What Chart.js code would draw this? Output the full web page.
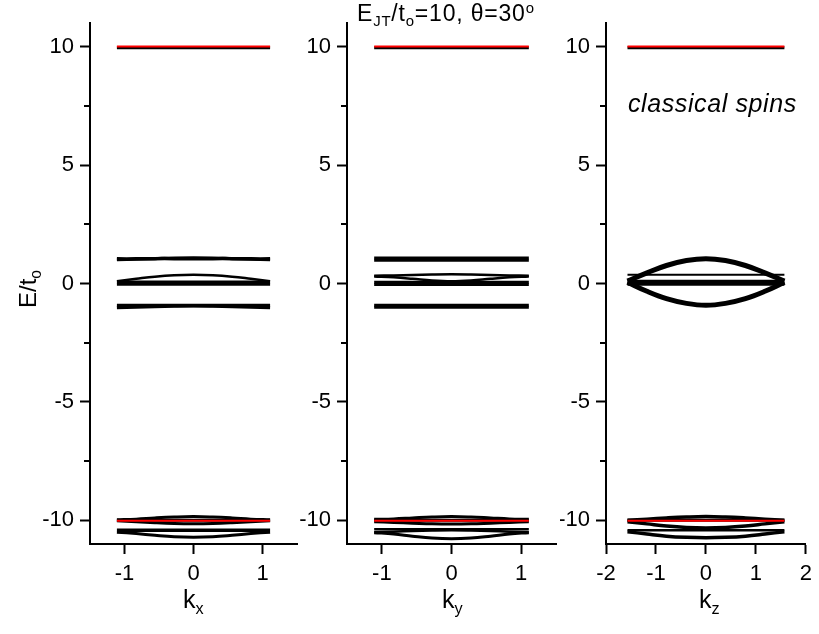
<!DOCTYPE html>
<html>
<head>
<meta charset="utf-8">
<script src="https://cdn.jsdelivr.net/npm/chart.js@4"></script>
<style>
  body { margin: 0; background: #fff; }
  #wrap { position: relative; width: 819px; height: 634px; background: #fff; font-family: "Liberation Sans", Arial, sans-serif; }
  .panel { position: absolute; top: 0; height: 634px; }
  .txt { position: absolute; color: #000; white-space: nowrap; line-height: 1; }
  sub { font-size: 0.65em; vertical-align: -0.35em; }
  sup { font-size: 0.65em; vertical-align: 0.55em; }
</style>
</head>
<body>
<div id="wrap">
  <div class="panel" style="left:0;width:300px"><canvas id="px"></canvas></div>
  <div class="panel" style="left:300px;width:260px"><canvas id="py"></canvas></div>
  <div class="panel" style="left:560px;width:259px"><canvas id="pz"></canvas></div>

  <div class="txt" style="left:357px;top:1px;font-size:23px;letter-spacing:0.8px">E<sub>JT</sub>/t<sub>o</sub>=10, &theta;=30<sup>o</sup></div>
  <div class="txt" style="left:628px;top:91px;font-size:25px;font-style:italic;letter-spacing:0.6px">classical spins</div>
  <div class="txt" style="left:2px;top:270px;font-size:24px;transform:rotate(-90deg);transform-origin:26px 12px">E/t<sub>o</sub></div>
  <div class="txt" style="left:183px;top:587px;font-size:25px">k<sub>x</sub></div>
  <div class="txt" style="left:442px;top:587px;font-size:25px">k<sub>y</sub></div>
  <div class="txt" style="left:699px;top:587px;font-size:25px">k<sub>z</sub></div>
</div>
<script>
// momentum grids
const kxy = [-1.11, -0.83, -0.56, -0.28, 0, 0.28, 0.56, 0.83, 1.11];
const kzz = [-1.57, -1.18, -0.79, -0.39, 0, 0.39, 0.79, 1.18, 1.57];

// tick values
const yTicks = [-10, -5, 0, 5, 10];
const yMinor = [-7.5, -2.5, 2.5, 7.5];
const xTicksXY = [-1, 0, 1];
const xTicksZ = [-2, -1, 0, 1, 2];

// bands along k_x
const kxTop  = [9.96, 9.96, 9.96, 9.96, 9.96, 9.96, 9.96, 9.96, 9.96];
const kxA1   = [1.04, 1.04, 1.05, 1.05, 1.05, 1.05, 1.05, 1.04, 1.04];
const kxA2   = [1.0, 1.02, 1.05, 1.08, 1.09, 1.08, 1.05, 1.02, 1.0];
const kxB1   = [0.1, 0.2, 0.29, 0.35, 0.37, 0.35, 0.29, 0.2, 0.1];
const kxB2   = [0.06, 0.06, 0.06, 0.06, 0.06, 0.06, 0.06, 0.06, 0.06];
const kxB3   = [-0.03, -0.03, -0.03, -0.03, -0.03, -0.03, -0.03, -0.03, -0.03];
const kxC1   = [-0.93, -0.93, -0.93, -0.93, -0.93, -0.93, -0.93, -0.93, -0.93];
const kxC2   = [-1.02, -1.0, -0.98, -0.96, -0.95, -0.96, -0.98, -1.0, -1.02];
const kxD1   = [-9.98, -9.95, -9.9, -9.86, -9.84, -9.86, -9.9, -9.95, -9.98];
const kxD2   = [-10.0, -10.0, -10.0, -10.0, -10.0, -10.0, -10.0, -10.0, -10.0];
const kxD3   = [-10.02, -10.06, -10.1, -10.13, -10.14, -10.13, -10.1, -10.06, -10.02];
const kxE1   = [-10.42, -10.42, -10.42, -10.42, -10.42, -10.42, -10.42, -10.42, -10.42];
const kxE2   = [-10.5, -10.56, -10.63, -10.69, -10.71, -10.69, -10.63, -10.56, -10.5];
const kxRedT = [10.01, 10.01, 10.01, 10.01, 10.01, 10.01, 10.01, 10.01, 10.01];
const kxRedB = [-10.02, -10.02, -10.02, -10.02, -10.02, -10.02, -10.02, -10.02, -10.02];

// bands along k_y
const kyTop  = [9.96, 9.96, 9.96, 9.96, 9.96, 9.96, 9.96, 9.96, 9.96];
const kyA1   = [1.08, 1.08, 1.08, 1.08, 1.08, 1.08, 1.08, 1.08, 1.08];
const kyA2   = [0.98, 0.98, 0.98, 0.98, 0.98, 0.98, 0.98, 0.98, 0.98];
const kyB1   = [0.33, 0.34, 0.36, 0.38, 0.39, 0.38, 0.36, 0.34, 0.33];
const kyB2   = [0.3, 0.26, 0.2, 0.13, 0.1, 0.13, 0.2, 0.26, 0.3];
const kyB3   = [0.05, 0.05, 0.05, 0.05, 0.05, 0.05, 0.05, 0.05, 0.05];
const kyB4   = [-0.04, -0.04, -0.04, -0.04, -0.04, -0.04, -0.04, -0.04, -0.04];
const kyC1   = [-0.92, -0.92, -0.92, -0.92, -0.92, -0.92, -0.92, -0.92, -0.92];
const kyC2   = [-1.0, -1.0, -1.0, -1.0, -1.0, -1.0, -1.0, -1.0, -1.0];
const kyD1   = [-9.96, -9.94, -9.9, -9.86, -9.84, -9.86, -9.9, -9.94, -9.96];
const kyD2   = [-10.0, -10.0, -10.0, -10.0, -10.0, -10.0, -10.0, -10.0, -10.0];
const kyD3   = [-10.06, -10.09, -10.12, -10.15, -10.16, -10.15, -10.12, -10.09, -10.06];
const kyE1   = [-10.38, -10.38, -10.38, -10.38, -10.38, -10.38, -10.38, -10.38, -10.38];
const kyE2   = [-10.5, -10.48, -10.45, -10.43, -10.42, -10.43, -10.45, -10.48, -10.5];
const kyE3   = [-10.52, -10.58, -10.67, -10.75, -10.78, -10.75, -10.67, -10.58, -10.52];
const kyRedT = [10.01, 10.01, 10.01, 10.01, 10.01, 10.01, 10.01, 10.01, 10.01];
const kyRedB = [-10.02, -10.02, -10.02, -10.02, -10.02, -10.02, -10.02, -10.02, -10.02];

// bands along k_z
const kzTop  = [9.96, 9.96, 9.96, 9.96, 9.96, 9.96, 9.96, 9.96, 9.96];
const kzA1   = [0.1, 0.45, 0.76, 0.97, 1.05, 0.97, 0.76, 0.45, 0.1];
const kzA2   = [0.37, 0.37, 0.37, 0.37, 0.37, 0.37, 0.37, 0.37, 0.37];
const kzB1   = [0.08, 0.08, 0.08, 0.08, 0.08, 0.08, 0.08, 0.08, 0.08];
const kzB2   = [-0.02, -0.02, -0.02, -0.02, -0.02, -0.02, -0.02, -0.02, -0.02];
const kzC1   = [0.05, -0.33, -0.64, -0.84, -0.92, -0.84, -0.64, -0.33, 0.05];
const kzD1   = [-10.0, -9.95, -9.9, -9.86, -9.84, -9.86, -9.9, -9.95, -10.0];
const kzD2   = [-10.0, -10.0, -10.0, -10.0, -10.0, -10.0, -10.0, -10.0, -10.0];
const kzD3   = [-10.06, -10.15, -10.24, -10.3, -10.32, -10.3, -10.24, -10.15, -10.06];
const kzE1   = [-10.42, -10.42, -10.42, -10.42, -10.42, -10.42, -10.42, -10.42, -10.42];
const kzE2   = [-10.48, -10.58, -10.67, -10.72, -10.74, -10.72, -10.67, -10.58, -10.48];
const kzRedT = [10.01, 10.01, 10.01, 10.01, 10.01, 10.01, 10.01, 10.01, 10.01];
const kzRedB = [-10.02, -10.02, -10.02, -10.02, -10.02, -10.02, -10.02, -10.02, -10.02];

const FONT = "'Liberation Sans', Arial, sans-serif";

function band(k, e, color, width) {
  return {
    data: k.map((x, i) => ({ x: x, y: e[i] })),
    borderColor: color,
    borderWidth: width,
    pointRadius: 0,
    tension: 0.4,
    fill: false,
    order: color === "#ff0000" ? 0 : 1,
  };
}

// short ticks halfway between the labelled ones
const minorTicks = {
  id: "minorTicks",
  afterDraw(chart) {
    const ys = chart.scales.y;
    const ctx = chart.ctx;
    ctx.save();
    ctx.strokeStyle = "#000";
    ctx.lineWidth = 2;
    yMinor.forEach((v) => {
      const py = Math.round(ys.getPixelForValue(v));
      ctx.beginPath();
      ctx.moveTo(ys.right - 6, py);
      ctx.lineTo(ys.right, py);
      ctx.stroke();
    });
    ctx.restore();
  },
};

function panel(id, datasets, xMin, xMax, xTicks, yWidth, padRight) {
  return new Chart(document.getElementById(id), {
    type: "line",
    data: { datasets: datasets },
    plugins: [minorTicks],
    options: {
      responsive: true,
      maintainAspectRatio: false,
      animation: false,
      layout: { padding: { top: 23, right: padRight, left: 0, bottom: 0 } },
      plugins: { legend: { display: false }, tooltip: { enabled: false } },
      scales: {
        x: {
          type: "linear",
          min: xMin,
          max: xMax,
          afterBuildTicks: (s) => { s.ticks = xTicks.map((v) => ({ value: v })); },
          afterFit: (s) => { s.height = 90; },
          border: { display: true, color: "#000", width: 2 },
          grid: { drawOnChartArea: false, drawTicks: true, tickLength: 10, tickColor: "#000", tickWidth: 2 },
          ticks: { color: "#000", font: { family: FONT, size: 22 }, padding: 7, maxRotation: 0 },
        },
        y: {
          type: "linear",
          min: -11,
          max: 11,
          afterBuildTicks: (s) => { s.ticks = yTicks.map((v) => ({ value: v })); },
          afterFit: (s) => { s.width = yWidth; },
          border: { display: true, color: "#000", width: 2 },
          grid: { drawOnChartArea: false, drawTicks: true, tickLength: 10, tickColor: "#000", tickWidth: 2 },
          ticks: { color: "#000", font: { family: FONT, size: 22 }, padding: 6 },
        },
      },
    },
  });
}

const BK = "#000000";
const RD = "#ff0000";

panel("px", [
  band(kxy, kxTop, BK, 3),
  band(kxy, kxA1, BK, 3.5), band(kxy, kxA2, BK, 3),
  band(kxy, kxB1, BK, 2.5), band(kxy, kxB2, BK, 3), band(kxy, kxB3, BK, 3),
  band(kxy, kxC1, BK, 3.5), band(kxy, kxC2, BK, 3),
  band(kxy, kxD1, BK, 3), band(kxy, kxD2, BK, 3), band(kxy, kxD3, BK, 3),
  band(kxy, kxE1, BK, 3.5), band(kxy, kxE2, BK, 3),
  band(kxy, kxRedT, RD, 2), band(kxy, kxRedB, RD, 2),
], -1.5, 1.5, xTicksXY, 90, 3);

panel("py", [
  band(kxy, kyTop, BK, 3),
  band(kxy, kyA1, BK, 3), band(kxy, kyA2, BK, 3),
  band(kxy, kyB1, BK, 2.5), band(kxy, kyB2, BK, 2.5), band(kxy, kyB3, BK, 3), band(kxy, kyB4, BK, 3),
  band(kxy, kyC1, BK, 3), band(kxy, kyC2, BK, 3),
  band(kxy, kyD1, BK, 3), band(kxy, kyD2, BK, 3), band(kxy, kyD3, BK, 3),
  band(kxy, kyE1, BK, 2.5), band(kxy, kyE2, BK, 2.5), band(kxy, kyE3, BK, 3),
  band(kxy, kyRedT, RD, 2), band(kxy, kyRedB, RD, 2),
], -1.5, 1.5, xTicksXY, 47, 4);

panel("pz", [
  band(kzz, kzTop, BK, 3),
  band(kzz, kzA1, BK, 5), band(kzz, kzA2, BK, 2),
  band(kzz, kzB1, BK, 3.5), band(kzz, kzB2, BK, 3.5),
  band(kzz, kzC1, BK, 5),
  band(kzz, kzD1, BK, 3.5), band(kzz, kzD2, BK, 3), band(kzz, kzD3, BK, 3.5),
  band(kzz, kzE1, BK, 2.5), band(kzz, kzE2, BK, 3.5),
  band(kzz, kzRedT, RD, 2), band(kzz, kzRedB, RD, 2),
], -2, 2, xTicksZ, 46, 7);
</script>
</body>
</html>
